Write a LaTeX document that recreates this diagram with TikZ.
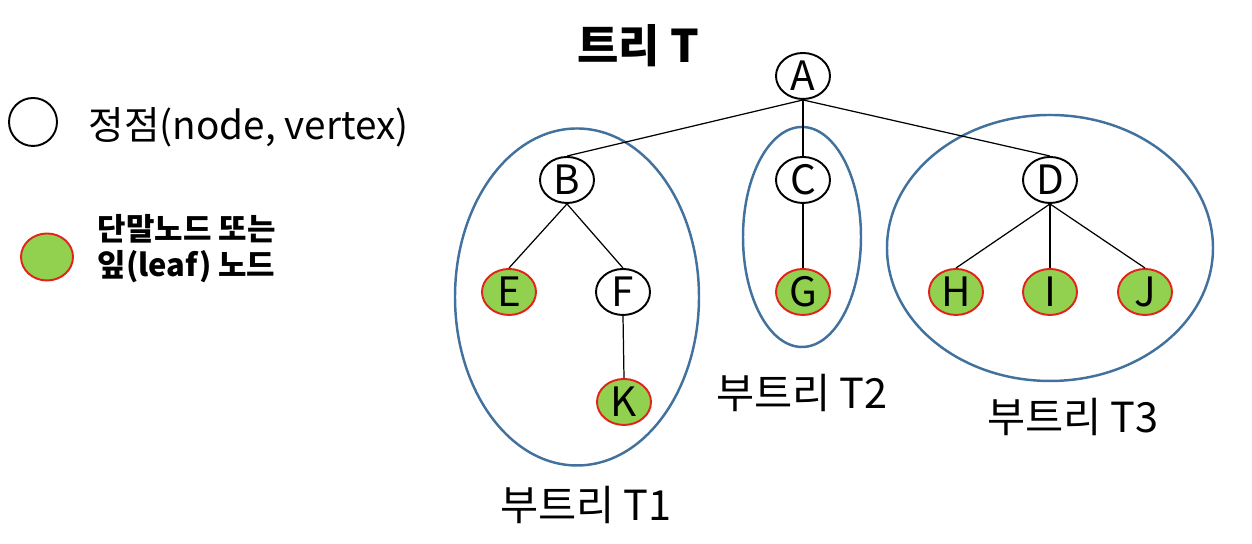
\documentclass[tikz,border=0pt]{standalone}
\usepackage{fontspec}
\usepackage{xcolor}
\usepackage{tikz}
\usetikzlibrary{shapes.geometric}
\setmainfont{Noto Sans CJK KR}
\definecolor{leafgreen}{RGB}{146,208,80}
\definecolor{leafred}{RGB}{225,35,25}
\definecolor{treeblue}{RGB}{65,113,156}

\begin{document}
\begin{tikzpicture}[
    vert/.style={ellipse, draw=black, line width=0.55pt, fill=white,
                 minimum width=0.54cm, minimum height=0.46cm, inner sep=0pt,
                 font=\fontsize{11.5}{13}\selectfont},
    leaf/.style={vert, draw=leafred, fill=leafgreen},
    subtree/.style={draw=treeblue, line width=0.7pt},
    edge/.style={draw=black, line width=0.35pt},
    sublabel/.style={font=\fontsize{11.8}{13}\selectfont}]
    \useasboundingbox (0,0) rectangle (12.52,5.44);

    % legend
    \node[vert, minimum width=0.48cm, minimum height=0.48cm] (vtx) at (0.33,4.22) {};
    \node[anchor=west, inner sep=0pt, font=\fontsize{11}{13}\selectfont] (vtxtext) at (0.88,4.17) {정점(node, vertex)};
    \node[leaf, minimum width=0.52cm, minimum height=0.47cm] (leafkey) at (0.47,2.87) {};
    \node[anchor=west, inner sep=0pt, align=left, font=\fontsize{8.8}{10.3}\selectfont\bfseries] (leaftext) at (0.97,2.95) {단말노드 또는\\잎(leaf) 노드};

    % title
    \node[font=\fontsize{12.8}{14}\selectfont\bfseries] (title) at (6.38,4.98) {트리 T};

    % subtrees
    \draw[subtree] (5.77,2.47) ellipse [x radius=1.22, y radius=1.685];
    \draw[subtree] (8.02,3.07) ellipse [x radius=0.59, y radius=1.10];
    \draw[subtree] (10.50,2.96) ellipse [x radius=1.63, y radius=1.33];
    \node[sublabel] (t1) at (5.86,0.39) {부트리 T1};
    \node[sublabel] (t2) at (8.02,1.51) {부트리 T2};
    \node[sublabel] (t3) at (10.73,1.27) {부트리 T3};

    % tree T
    \node[vert] (A) at (8.03,4.68) {A};
    \node[vert] (B) at (5.67,3.64) {B};
    \node[vert] (C) at (8.03,3.64) {C};
    \node[vert] (D) at (10.50,3.64) {D};
    \node[leaf] (E) at (5.09,2.52) {E};
    \node[vert] (F) at (6.23,2.52) {F};
    \node[leaf] (G) at (8.03,2.52) {G};
    \node[leaf] (H) at (9.56,2.52) {H};
    \node[leaf] (I) at (10.50,2.52) {I};
    \node[leaf] (J) at (11.45,2.52) {J};
    \node[leaf] (K) at (6.24,1.42) {K};

    \foreach \p/\c in {A/B,A/C,A/D,B/E,B/F,C/G,D/H,D/I,D/J,F/K}
        \draw[edge] (\p.south) -- (\c.north);
\end{tikzpicture}
\end{document}
